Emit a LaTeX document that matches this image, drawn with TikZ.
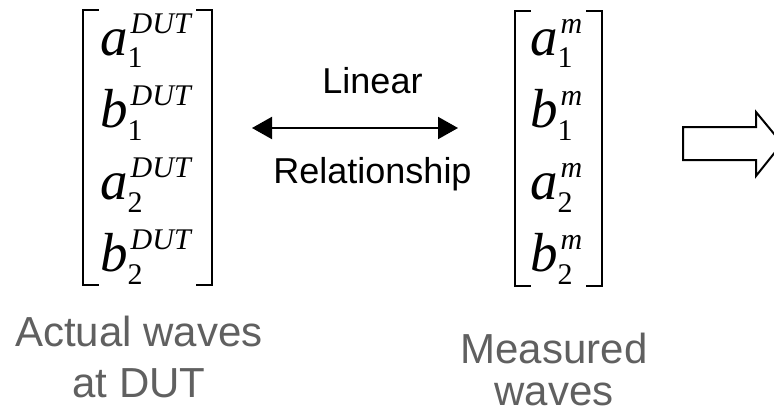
\documentclass[tikz,border=0pt]{standalone}
\usepackage{fontspec}
\setmainfont{Liberation Serif}
\newfontfamily\arialfont{Liberation Sans}
\definecolor{captionGray}{HTML}{606060}
\usetikzlibrary{arrows.meta, positioning}
% one wave entry: letter, upright subscript, italic superscript
\newcommand{\wave}[3]{\textit{#1}\rlap{\raisebox{-13pt}{\fontsize{30}{30}\selectfont #2}}\kern3pt\raisebox{22pt}{\fontsize{30}{30}\selectfont\itshape #3}}

\begin{document}
\begin{tikzpicture}[
    x=1pt, y=-1pt,
    vec/.style={rectangle, minimum height=275pt, inner sep=0pt},
    bracket/.style={line width=2pt, line cap=rect},
    entry/.style={anchor=base west, inner sep=0pt, font=\fontsize{55}{55}\selectfont},
    link/.style={{Triangle[length=20pt, width=22pt]}-{Triangle[length=20pt, width=22pt]}, line width=2pt},
    rel/.style={anchor=base, inner sep=0pt, font=\arialfont\fontsize{36}{36}\selectfont},
    caption/.style={anchor=north, inner sep=0pt, align=center, text=captionGray,
                    font=\arialfont\fontsize{42}{51}\selectfont},
    block/.style={line width=2pt, line join=miter, fill=white}
  ]
    \useasboundingbox (0,0) rectangle (774,415);
    % the two wave vectors
    \node[vec, minimum width=129pt] (dut) at (147.5,147.5) {};
    \node[vec, minimum width=87pt] (meas) at (558.5,148.5) {};
    \foreach \v in {dut, meas} {
      \draw[bracket] ([xshift=15pt]\v.north west) -- (\v.north west) -- (\v.south west) -- ([xshift=15pt]\v.south west);
      \draw[bracket] ([xshift=-15pt]\v.north east) -- (\v.north east) -- (\v.south east) -- ([xshift=-15pt]\v.south east);
    }
    \foreach \l/\s/\y [count=\i] in {a/1/55, b/1/127, a/2/199, b/2/271} {
      \node[entry] (dut\i) at (100,\y) {\wave{\l}{\s}{DUT}};
      \node[entry] (meas\i) at (530,\y) {\wave{\l}{\s}{m}};
    }
    % linear relationship
    \coordinate (relL) at (252,128);
    \coordinate (relR) at (458,128);
    \draw[link] (relL) -- (relR);
    \node[rel] (linear) at (372.5,93) {Linear};
    \node[rel] (relship) at (372.5,183) {Relationship};
    % block arrow, tip runs off the page
    \draw[block] (683,127) -- (756,127) -- (756,112) -- (782,143.5) -- (756,176) -- (756,160) -- (683,160) -- cycle;
    % captions
    \node[caption] (actual) at (139,316) {Actual waves\\at DUT};
    \node[caption] (measured) at (554,333) {Measured\\[-9pt]waves};
  \end{tikzpicture}
\end{document}
